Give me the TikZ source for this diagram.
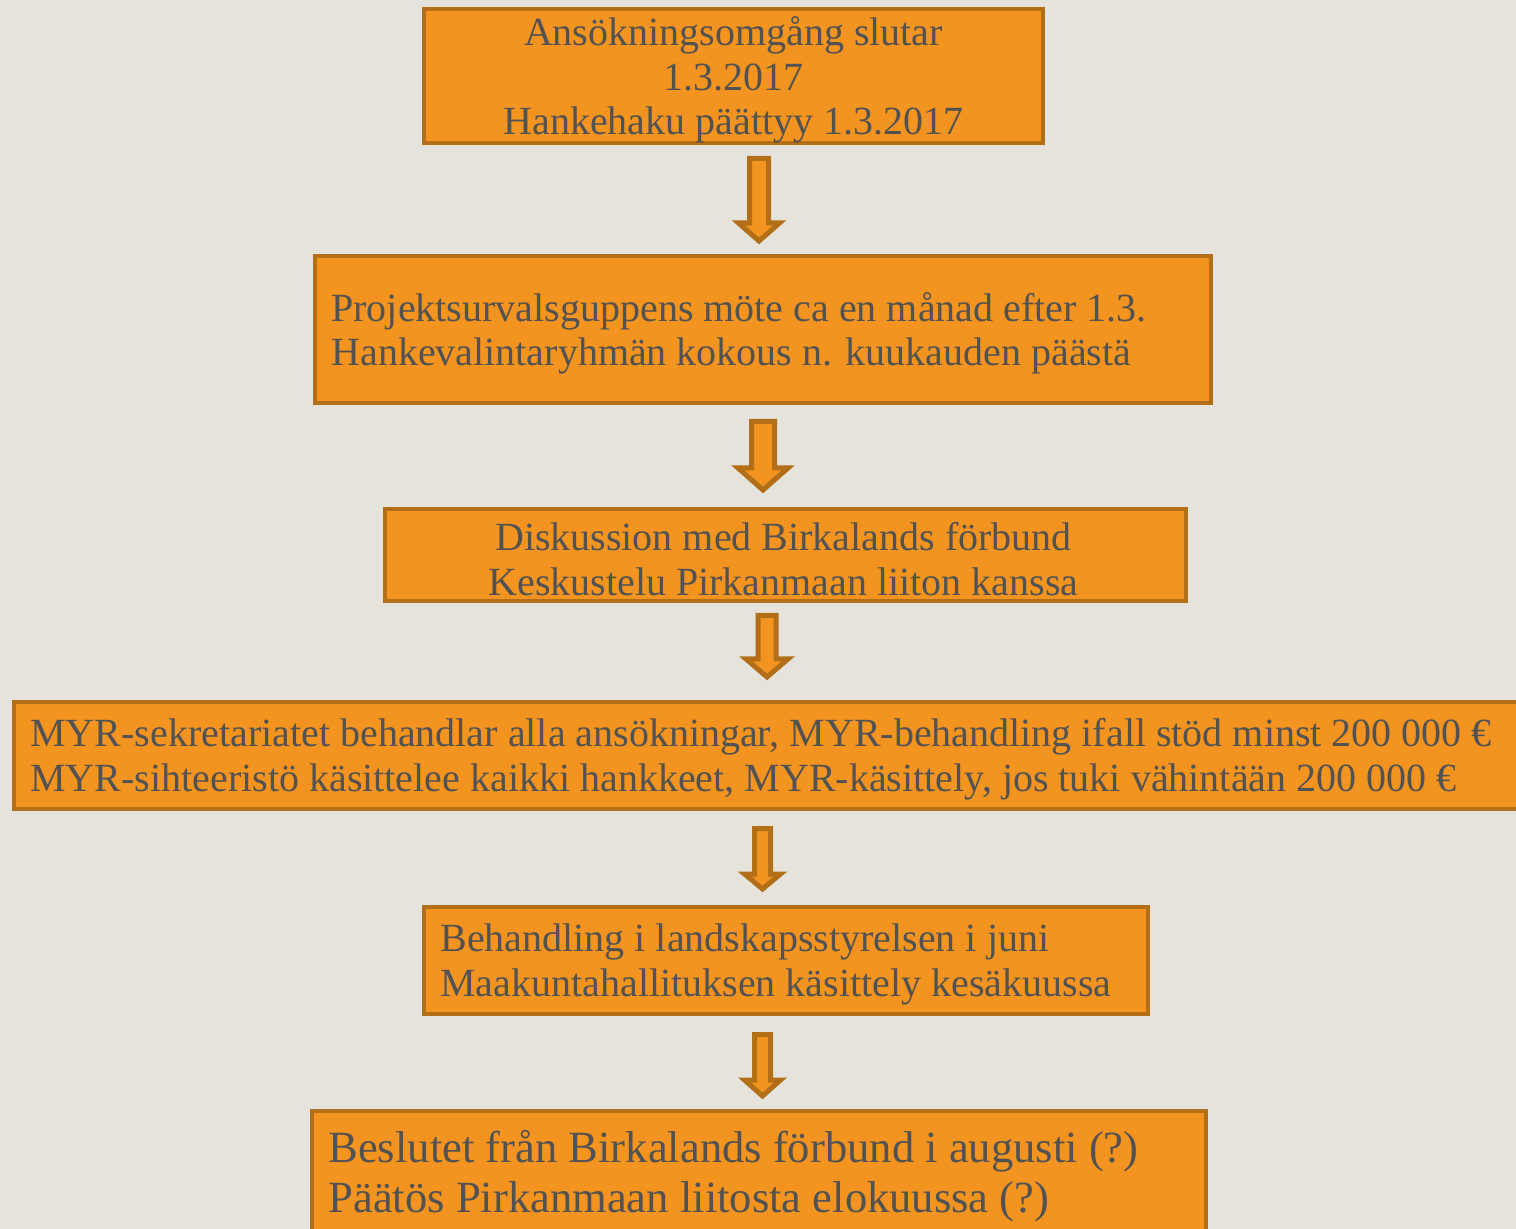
\documentclass[tikz,border=0pt]{standalone}
\usepackage{fontspec}
\setmainfont{Liberation Serif}
\definecolor{bgc}{HTML}{E5E3DC}
\definecolor{boxfill}{HTML}{F2941F}
\definecolor{boxline}{HTML}{B36F17}
\definecolor{txt}{HTML}{525252}
\tikzset{
  flowbox/.style={draw=boxline, fill=boxfill, line width=2pt, rectangle, inner sep=0pt},
  flowtext/.style={inner sep=0pt, text=txt, yshift=-2pt, font=\fontsize{20}{22.3}\selectfont},
  blockarrow/.style={draw=boxline, fill=boxfill, line width=2.5pt, line join=miter}
}
% #1 center x, #2 shaft half, #3 head half, #4 top, #5 base, #6 tip
\newcommand{\downarrowblk}[6]{%
  \draw[blockarrow] (#1-#2+2.5,#4+2.5) -- (#1+#2-2.5,#4+2.5) -- (#1+#2-2.5,#5+2) -- (#1+#3-4,#5+2) -- (#1,#6-4) -- (#1-#3+4,#5+2) -- (#1-#2+2.5,#5+2) -- cycle;}
\begin{document}
\begin{tikzpicture}[x=0.5pt,y=-0.5pt]
\fill[bgc] (0,0) rectangle (1516,1229);
\useasboundingbox (0,0) rectangle (1516,1229);
\node[flowbox, minimum width=309.5pt, minimum height=67pt] (b1) at (733.5,76) {};
\node[flowtext, align=center] (t1) at (b1.center) {Ansökningsomgång slutar\\1.3.2017\\Hankehaku päättyy 1.3.2017};
\node[flowbox, minimum width=448pt, minimum height=73.5pt] (b2) at (763,329.5) {};
\node[flowtext, align=left, anchor=west] (t2) at ([xshift=9pt]b2.west) {Projektsurvalsguppens möte ca en månad efter 1.3.\\Hankevalintaryhmän kokous n. kuukauden päästä};
\node[flowbox, minimum width=400.5pt, minimum height=46pt] (b3) at (785.5,555) {};
\node[flowtext, align=center] (t3) at ([xshift=-1pt]b3.center) {Diskussion med Birkalands förbund\\Keskustelu Pirkanmaan liiton kanssa};
\node[flowbox, minimum width=753pt, minimum height=53.5pt] (b4) at (767,755.5) {};
\node[flowtext, align=left, anchor=west] (t4) at ([xshift=9pt]b4.west) {MYR-sekretariatet behandlar alla ansökningar, MYR-behandling ifall stöd minst 200 000 €\\MYR-sihteeristö käsittelee kaikki hankkeet, MYR-käsittely, jos tuki vähintään 200 000 €};
\node[flowbox, minimum width=362pt, minimum height=53.5pt] (b5) at (786,960.5) {};
\node[flowtext, align=left, anchor=west] (t5) at ([xshift=9pt]b5.west) {Behandling i landskapsstyrelsen i juni\\Maakuntahallituksen käsittely kesäkuussa};
\node[flowbox, minimum width=447pt, minimum height=61pt] (b6) at (759,1172) {};
\node[flowtext, align=left, anchor=west, font=\fontsize{22.3}{25}\selectfont] (t6) at ([xshift=9pt]b6.west) {Beslutet från Birkalands förbund i augusti (?)\\Päätös Pirkanmaan liitosta elokuussa (?)};
\downarrowblk{759}{12}{24.5}{156}{221}{245}
\downarrowblk{763}{14}{29}{419}{466}{494}
\downarrowblk{767}{11.5}{25}{613}{657}{681}
\downarrowblk{762.5}{10.5}{22}{826}{872}{893}
\downarrowblk{762.5}{10.5}{22}{1032}{1078}{1100}
\end{tikzpicture}
\end{document}
